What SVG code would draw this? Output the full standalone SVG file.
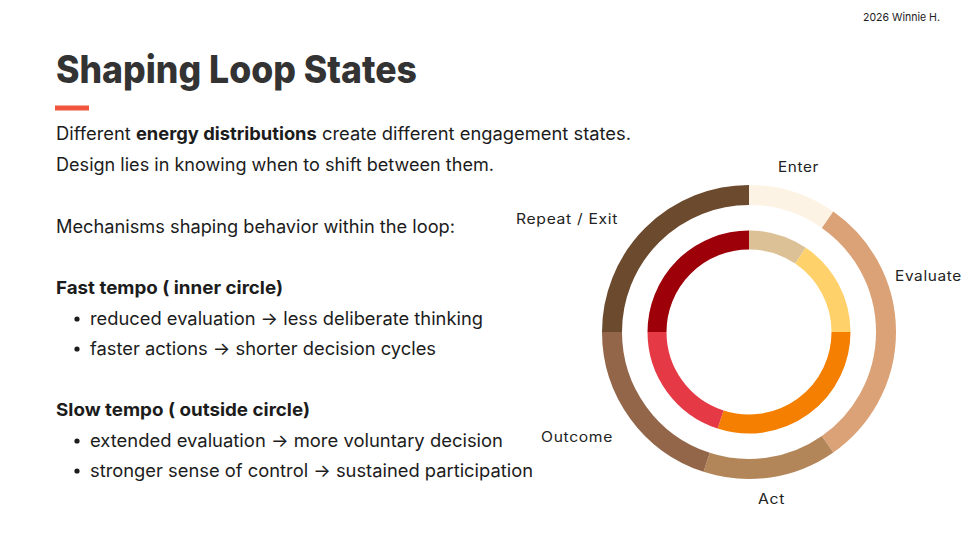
<svg xmlns="http://www.w3.org/2000/svg" width="979" height="551" viewBox="0 0 979 551">
<style>
.body{font-family:Inter,"Noto Sans",sans-serif;font-size:18px;fill:#1c1c1c}
.b{font-weight:700}
.lbl{font-family:Inter,"Noto Sans",sans-serif;font-size:14px;fill:#222;letter-spacing:0.6px}
.seg{fill:none}
</style>
<rect width="979" height="551" fill="#ffffff"/>
<text x="863" y="21" font-family="Inter, 'Noto Sans', sans-serif" font-size="11" fill="#222" textLength="77" lengthAdjust="spacingAndGlyphs">2026 Winnie H.</text>
<g id="title">
<text x="56" y="83" font-family="Inter, 'Open Sans', sans-serif" font-weight="800" font-size="38" fill="#333333" textLength="361" lengthAdjust="spacingAndGlyphs">Shaping Loop States</text>
<rect x="55" y="105.5" width="34" height="5" fill="#F2543D"/>
</g>
<g id="text">
<text class="body" x="56" y="140" textLength="575" lengthAdjust="spacingAndGlyphs">Different <tspan class="b">energy distributions</tspan> create different engagement states.</text>
<text class="body" x="56" y="171" textLength="438" lengthAdjust="spacingAndGlyphs">Design lies in knowing when to shift between them.</text>
<text class="body" x="56" y="233" textLength="399" lengthAdjust="spacingAndGlyphs">Mechanisms shaping behavior within the loop:</text>
<text class="body b" x="56" y="294" textLength="227" lengthAdjust="spacingAndGlyphs">Fast tempo ( inner circle)</text>
<circle cx="77" cy="319" r="2.6" fill="#1c1c1c"/>
<text class="body" x="90" y="325" textLength="393" lengthAdjust="spacingAndGlyphs">reduced evaluation → less deliberate thinking</text>
<circle cx="77" cy="349" r="2.6" fill="#1c1c1c"/>
<text class="body" x="90" y="355" textLength="346" lengthAdjust="spacingAndGlyphs">faster actions → shorter decision cycles</text>
<text class="body b" x="56" y="416" textLength="254" lengthAdjust="spacingAndGlyphs">Slow tempo ( outside circle)</text>
<circle cx="77" cy="441" r="2.6" fill="#1c1c1c"/>
<text class="body" x="90" y="447" textLength="413" lengthAdjust="spacingAndGlyphs">extended evaluation → more voluntary decision</text>
<circle cx="77" cy="471" r="2.6" fill="#1c1c1c"/>
<text class="body" x="90" y="477" textLength="443" lengthAdjust="spacingAndGlyphs">stronger sense of control → sustained participation</text>
</g>
<g id="outer-ring" stroke-width="20">
<path id="outer-enter" class="seg" stroke="#FDF3E4" d="M749 195 A137 137 0 0 1 827.58 219.77"/>
<path id="outer-evaluate" class="seg" stroke="#DBA277" d="M827.58 219.77 A137 137 0 0 1 827.58 444.23"/>
<path id="outer-act" class="seg" stroke="#B3865A" d="M827.58 444.23 A137 137 0 0 1 706.66 462.30"/>
<path id="outer-outcome" class="seg" stroke="#93664A" d="M706.66 462.30 A137 137 0 0 1 612 332"/>
<path id="outer-repeat" class="seg" stroke="#6B4A2E" d="M612 332 A137 137 0 0 1 749 195"/>
</g>
<g id="inner-ring" stroke-width="19">
<path id="inner-enter" class="seg" stroke="#DDC196" d="M749 240 A92 92 0 0 1 800.44 255.73"/>
<path id="inner-evaluate" class="seg" stroke="#FFD16B" d="M800.44 255.73 A92 92 0 0 1 841 332"/>
<path id="inner-act" class="seg" stroke="#F57F00" d="M841 332 A92 92 0 0 1 720.57 419.50"/>
<path id="inner-outcome" class="seg" stroke="#E63946" d="M720.57 419.50 A92 92 0 0 1 657 332"/>
<path id="inner-repeat" class="seg" stroke="#9D0009" d="M657 332 A92 92 0 0 1 749 240"/>
</g>
<g id="labels">
<text class="lbl" x="778" y="172" textLength="41" lengthAdjust="spacingAndGlyphs">Enter</text>
<text class="lbl" x="895" y="281" textLength="67" lengthAdjust="spacingAndGlyphs">Evaluate</text>
<text class="lbl" x="758" y="504" textLength="27" lengthAdjust="spacingAndGlyphs">Act</text>
<text class="lbl" x="541" y="442" textLength="72" lengthAdjust="spacingAndGlyphs">Outcome</text>
<text class="lbl" x="516" y="224" textLength="102" lengthAdjust="spacingAndGlyphs">Repeat / Exit</text>
</g>
</svg>
